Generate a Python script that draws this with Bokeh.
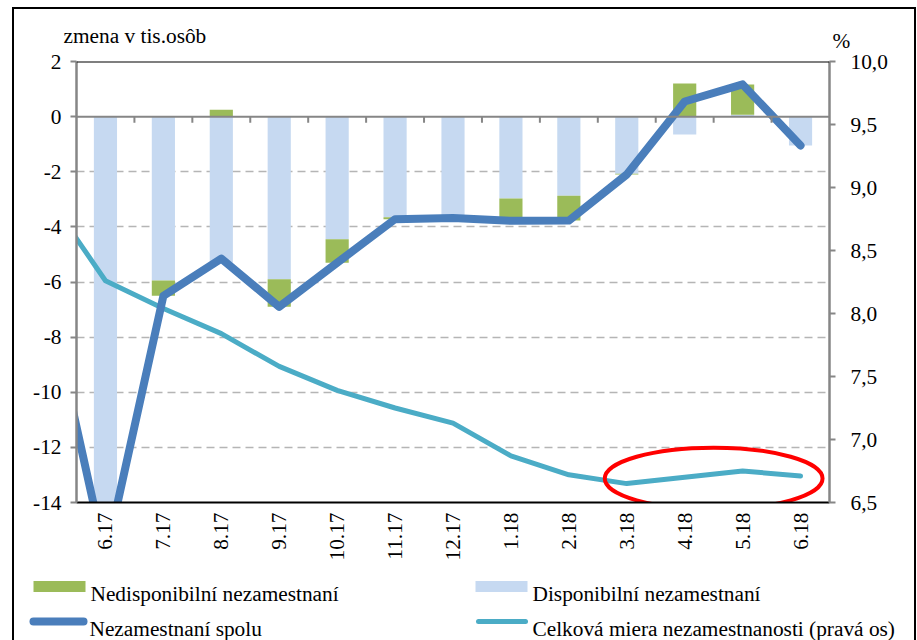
import numpy as np
from bokeh.plotting import figure
from bokeh.layouts import column
from bokeh.models import (Range1d, LinearAxis, FixedTicker, CustomJSTickFormatter, Span,
                          InlineStyleSheet)
from bokeh.core.properties import value
from bokeh.embed import file_html
from bokeh.resources import INLINE

# ---------------- data ----------------
months = ["6.17", "7.17", "8.17", "9.17", "10.17", "11.17", "12.17",
          "1.18", "2.18", "3.18", "4.18", "5.18", "6.18"]
disponibilni = [-16.0, -5.95, -5.3, -5.9, -4.45, -3.65, -3.68, -2.97, -2.87, -2.07, -0.65, 0.07, -1.05]
nedisponibilni = [0.0, -0.55, 0.25, -1.0, -0.85, -0.07, 0.0, -0.68, -0.9, -0.03, 1.2, 1.1, 0.0]
spolu = [-16.0, -6.5, -5.15, -6.9, -5.3, -3.72, -3.68, -3.78, -3.77, -2.1, 0.55, 1.17, -1.05]
miera = [8.26, 8.04, 7.84, 7.58, 7.39, 7.25, 7.13, 6.87, 6.72, 6.65, 6.70, 6.75, 6.71]
# month before the visible axis (5.17); its lines enter from the left edge
prev_spolu = -6.5
prev_miera = 8.93
left_ticks = [2, 0, -2, -4, -6, -8, -10, -12, -14]
grid_ticks = [-2, -4, -6, -8, -10, -12]
right_ticks = [6.5, 7.0, 7.5, 8.0, 8.5, 9.0, 9.5, 10.0]
legend_labels = ["Nedisponibilní nezamestnaní", "Disponibilní nezamestnaní",
                 "Nezamestnaní spolu", "Celková miera nezamestnanosti (pravá os)"]
left_title = "zmena v tis.osôb"
right_title = "%"
# highlighted region (red ellipse): centre between 4.18 and 5.18, on the right axis
hl_x, hl_y, hl_w, hl_h = 10.5, 6.69, 3.76, 0.49

# ---------------- styles ----------------
FONT = "'Liberation Serif', 'Times New Roman', Times, serif"
GREEN = "#9BBB59"
LIGHT = "#C6D9F1"
BLUE = "#4A7EBB"
TEAL = "#4BACC6"
AXIS_GRAY = "#868686"
TICK_SIZE = "21.33px"
LEG_SIZE = "21.33px"
TITLE_SIZE = "21.33px"
W = 917
TOP_H, MAIN_H, BOT_H = 51, 519, 70


def no_align(f):
    if "frame_align" in type(f).properties():
        f.frame_align = False


def strip(h):
    f = figure(frame_width=W, frame_height=h, output_backend="svg", toolbar_location=None,
               title=None, x_range=Range1d(0, W), y_range=Range1d(0, h),
               x_axis_location=None, y_axis_location=None, min_border=0)
    f.outline_line_color = None
    f.grid.visible = False
    f.background_fill_color = "white"
    f.border_fill_color = "white"
    no_align(f)
    return f


# ---------------- top strip: axis titles ----------------
top = strip(TOP_H)
top.text(x=[63, 832], y=[TOP_H - 35, TOP_H - 40], text=[left_title, right_title],
         text_font=value(FONT), text_font_size=value(TITLE_SIZE), text_color="black",
         text_baseline="alphabetic", text_align="left")

# ---------------- main chart ----------------
x = np.arange(len(months))
d = np.array(disponibilni)
n = np.array(nedisponibilni)
pos_base = np.where(d > 0, d, 0.0)
neg_base = np.where(d < 0, d, 0.0)
n_bottom = np.where(n >= 0, pos_base, neg_base)
n_top = n_bottom + n

fig = figure(width=W, height=MAIN_H, output_backend="svg", toolbar_location=None, title=None,
             x_range=Range1d(-0.5, len(months) - 0.5), y_range=Range1d(-14, 2),
             min_border_left=76, min_border_right=88, min_border_top=61 - TOP_H,
             min_border_bottom=TOP_H + MAIN_H - 502)
no_align(fig)
fig.extra_y_ranges = {"right": Range1d(6.5, 10.0)}
fig.outline_line_color = None
fig.background_fill_color = "white"
fig.border_fill_color = "white"

fig.xgrid.visible = False
fig.ygrid.ticker = FixedTicker(ticks=grid_ticks)
fig.ygrid.grid_line_color = "#B5B5B5"
fig.ygrid.grid_line_dash = "8 5"
fig.ygrid.grid_line_width = 1.6

fig.vbar(x=x, bottom=0, top=d, width=0.4, fill_color=LIGHT, line_color=None)
fig.vbar(x=x, bottom=n_bottom, top=n_top, width=0.4, fill_color=GREEN, line_color=None)

xl = np.concatenate([[-1], x])
fig.line(xl, np.concatenate([[prev_miera], miera]), y_range_name="right",
         line_color=TEAL, line_width=5, line_cap="round", line_join="round")
fig.line(xl, np.concatenate([[prev_spolu], spolu]),
         line_color=BLUE, line_width=8, line_cap="round", line_join="round")

fig.ellipse(x=hl_x, y=hl_y, width=hl_w, height=hl_h, y_range_name="right",
            fill_alpha=0, line_color="#FF0000", line_width=4)

fig.add_layout(Span(location=0, dimension="width", line_color=AXIS_GRAY, line_width=2))
bounds = np.arange(len(months) - 1) + 0.5
fig.segment(x0=bounds, y0=0, x1=bounds, y1=-0.22, line_color=AXIS_GRAY, line_width=2)
fig.add_layout(Span(location=2, dimension="width", line_color="black", line_width=2))


def style_axis(ax, standoff):
    ax.axis_line_color = AXIS_GRAY
    ax.axis_line_width = 2.5
    ax.major_tick_line_color = AXIS_GRAY
    ax.major_tick_line_width = 2
    ax.major_tick_out = 6
    ax.major_tick_in = 0
    ax.minor_tick_line_color = None
    ax.major_label_standoff = standoff
    ax.major_label_text_font = FONT
    ax.major_label_text_font_size = TICK_SIZE
    ax.major_label_text_color = "black"


ya = fig.yaxis[0]
ya.ticker = FixedTicker(ticks=left_ticks)
ya.formatter = CustomJSTickFormatter(code="return tick.toFixed(0);")
style_axis(ya, 9)

ra = LinearAxis(y_range_name="right", ticker=FixedTicker(ticks=right_ticks),
                formatter=CustomJSTickFormatter(code="return tick.toFixed(1).replace('.', ',');"))
style_axis(ra, 15)
fig.add_layout(ra, "right")

xa = fig.xaxis[0]
xa.ticker = FixedTicker(ticks=list(range(len(months))))
xa.major_label_overrides = {i: m for i, m in enumerate(months)}
xa.major_label_orientation = np.pi / 2
style_axis(xa, 10)
xa.axis_line_color = "black"
xa.axis_line_width = 2
xa.major_tick_line_color = None
xa.major_tick_out = 0

# ---------------- bottom strip: legend ----------------
bot = strip(BOT_H)
BOT_TOP = TOP_H + MAIN_H          # page y of the strip's top edge
row1, row2 = BOT_TOP + BOT_H - 586, BOT_TOP + BOT_H - 621
bot.segment(x0=[33, 475], y0=[row1, row1], x1=[85, 527], y1=[row1, row1],
            line_color=[GREEN, LIGHT], line_width=11, line_cap="butt")
bot.segment(x0=[33], y0=[row2], x1=[83], y1=[row2], line_color=BLUE, line_width=8, line_cap="round")
bot.segment(x0=[478], y0=[row2], x1=[525], y1=[row2], line_color=TEAL, line_width=5, line_cap="round")
bot.text(x=[90, 532, 89, 532], y=[row1 - 7, row1 - 7, row2 - 7, row2 - 7], text=legend_labels,
         text_font=value(FONT), text_font_size=value(LEG_SIZE), text_color="black",
         text_baseline="alphabetic", text_align="left")

p = column(top, fig, bot, spacing=0)
p.stylesheets = [InlineStyleSheet(css=(
    ":host::after {content: ''; position: absolute; left: 12px; top: 7px; right: 1px; bottom: 0px;"
    " border: 2px solid black; border-bottom: none; box-sizing: border-box;"
    " pointer-events: none; z-index: 100;}"))]

open("out.html", "w").write(file_html(p, INLINE))
